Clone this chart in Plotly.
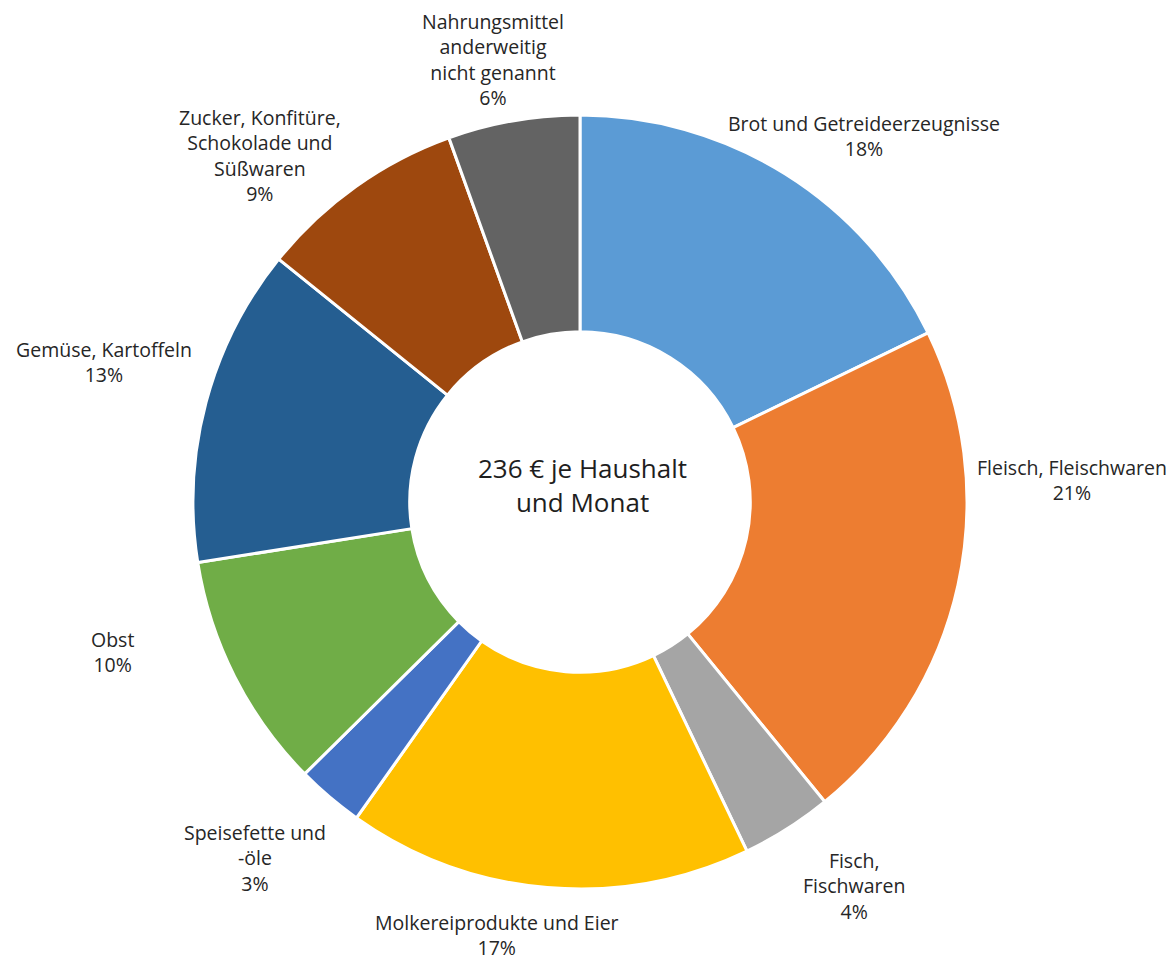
import plotly.graph_objects as go

categories = [
    "Brot und Getreideerzeugnisse",
    "Fleisch, Fleischwaren",
    "Fisch,<br>Fischwaren",
    "Molkereiprodukte und Eier",
    "Speisefette und<br>-öle",
    "Obst",
    "Gemüse, Kartoffeln",
    "Zucker, Konfitüre,<br>Schokolade und<br>Süßwaren",
    "Nahrungsmittel<br>anderweitig<br>nicht genannt",
]
shares = [17.8, 21.3, 3.8, 16.9, 2.8, 9.9, 13.3, 8.7, 5.5]
pct_labels = ["18%", "21%", "4%", "17%", "3%", "10%", "13%", "9%", "6%"]
colors = ["#5B9BD5", "#ED7D31", "#A5A5A5", "#FFC000", "#4472C4",
          "#70AD47", "#255E91", "#9E480E", "#636363"]
center_text = "236 € je Haushalt<br>und Monat"

# label box centres (page pixels), placed like the original chart
label_pos_px = [(864, 136), (1072, 480), (854, 886), (497, 935), (255, 858),
                (112, 652), (104, 362), (260, 155), (493, 59)]
center_text_px = (582, 485)

W, H = 1166, 954
L, T, SIDE = 185, 107, 774
PAGE_OFF = 8
R = W - L - SIDE
B = H - T - SIDE

fig = go.Figure(go.Pie(
    labels=[c.replace("<br>", " ") for c in categories],
    values=shares,
    textinfo="none",
    sort=False,
    direction="clockwise",
    rotation=0,
    hole=0.44,
    marker=dict(colors=colors, line=dict(color="white", width=3)),
    showlegend=False,
    automargin=False,
    hoverinfo="label+percent",
))

x0 = PAGE_OFF + L
y1 = PAGE_OFF + T + SIDE


def to_paper(px, py):
    return (px - x0) / SIDE, (y1 - py) / SIDE


font = dict(family="Open Sans", size=19.5, color="#262626")
for cat, pct, (px, py) in zip(categories, pct_labels, label_pos_px):
    ax, ay = to_paper(px, py)
    fig.add_annotation(
        text=f"{cat}<br>{pct}", x=ax, y=ay,
        xref="paper", yref="paper", xanchor="center", yanchor="middle",
        align="center", showarrow=False, font=font,
    )

cx, cy = to_paper(*center_text_px)
fig.add_annotation(
    text=center_text, x=cx, y=cy, xref="paper", yref="paper",
    xanchor="center", yanchor="middle", align="center",
    showarrow=False, font=dict(family="Open Sans", size=26, color="#1e1e1e"),
)

fig.update_layout(
    width=W, height=H,
    margin=dict(l=L, r=R, t=T, b=B),
    paper_bgcolor="white", plot_bgcolor="white",
)

fig.write_html("out.html")
